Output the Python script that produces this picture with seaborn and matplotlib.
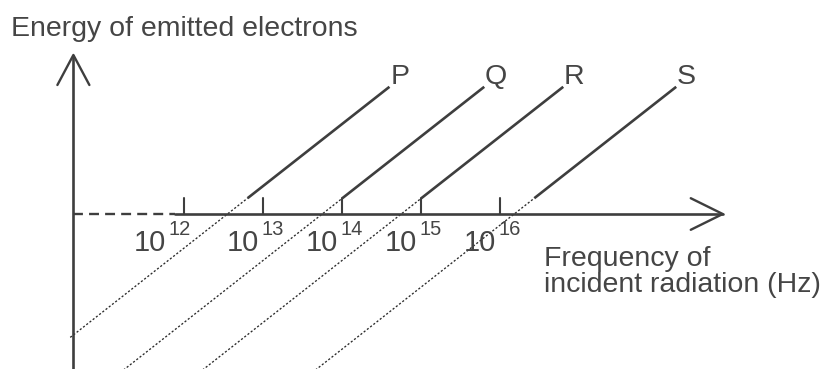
import matplotlib
matplotlib.use("Agg")
import matplotlib.pyplot as plt
import numpy as np
import pandas as pd
import seaborn as sns

# Photoelectric emission: energy of emitted electrons vs log10(frequency)
metals = ["P", "Q", "R", "S"]
threshold_exp = [12.55, 13.75, 14.75, 16.18]   # log10 of threshold frequency (Hz)
energy_gradient = 0.785                          # energy rise per decade of frequency
energy_solid_from = 0.2                          # below this the lines are extrapolated (dotted)
energy_top = 1.61                                # upper end of each measured line
tick_exps = [12, 13, 14, 15, 16]
tick_base = "10"
tick_powers = ["12", "13", "14", "15", "16"]

sns.set_theme(style="white")
plt.rcParams["font.family"] = ["Liberation Sans", "DejaVu Sans"]

INK = "#3e3e3e"
TEXT = "#454545"

fig = plt.figure(figsize=(8.32, 3.69), dpi=100)
ax = fig.add_axes([0, 0, 1, 1])
ax.set_xlim(9.671, 20.203)
ax.set_ylim(-1.962, 2.709)
ax.set_axis_off()

y_axis_x = 10.6
x_axis_end = 18.82
y_axis_top = 2.013
ylo = ax.get_ylim()[0]

# measured (solid) and extrapolated (dotted) parts of each line
solid_rows, dotted_rows = [], []
for m, x0 in zip(metals, threshold_exp):
    e_low = max(energy_gradient * (y_axis_x - 0.04 - x0), ylo - 0.1)
    for e in (e_low, energy_solid_from):
        dotted_rows.append({"metal": m, "exp": x0 + e / energy_gradient, "energy": e})
    for e in (energy_solid_from, energy_top):
        solid_rows.append({"metal": m, "exp": x0 + e / energy_gradient, "energy": e})
solid = pd.DataFrame(solid_rows)
dotted = pd.DataFrame(dotted_rows)

sns.lineplot(data=dotted, x="exp", y="energy", units="metal", estimator=None,
             color="#2a2a2a", lw=0.95, ls=(0, (1.6, 1.5)), ax=ax, legend=False)
sns.lineplot(data=solid, x="exp", y="energy", units="metal", estimator=None,
             color=INK, lw=1.9, solid_capstyle="butt", ax=ax, legend=False)

# metal labels at the top of each line
for m, x0 in zip(metals, threshold_exp):
    ax.text(x0 + energy_top / energy_gradient + 0.01, energy_top + 0.03, m,
            fontsize=20.5, color=TEXT, ha="left", va="baseline")

# axes drawn by hand: y-axis arrow, x-axis (dashed near origin) with arrow
ax.plot([y_axis_x, y_axis_x], [ylo - 0.1, y_axis_top], color=INK, lw=1.9,
        solid_capstyle="butt")
ax.plot([y_axis_x - 0.2025, y_axis_x, y_axis_x + 0.2025],
        [y_axis_top - 0.38, y_axis_top, y_axis_top - 0.38], color=INK, lw=1.7)
ax.plot([y_axis_x, 11.886], [0, 0], color=INK, lw=1.7, ls=(0, (4.2, 2.6)))
ax.plot([11.886, x_axis_end], [0, 0], color=INK, lw=1.9)
ax.plot([x_axis_end - 0.405, x_axis_end, x_axis_end - 0.405],
        [0.2, 0, -0.2], color=INK, lw=1.7)

# decade ticks and labels
label_shift = [-0.177, 0, 0, 0, 0]
for xe, p, sh in zip(tick_exps, tick_powers, label_shift):
    ax.plot([xe, xe], [0, 0.203], color=INK, lw=1.5)
    ax.text(xe + sh - 0.05, -0.468, tick_base, fontsize=21, color=TEXT,
            ha="right", va="baseline")
    ax.text(xe + sh - 0.015, -0.266, p, fontsize=14.5, color=TEXT,
            ha="left", va="baseline")

fig.text(11 / 832, 1 - 36.5 / 369, "Energy of emitted electrons",
         fontsize=20.5, color=TEXT, ha="left", va="baseline")
fig.text(544 / 832, 1 - 292 / 369, "Frequency of\nincident radiation (Hz)",
         fontsize=20.5, color=TEXT, ha="left", va="baseline", linespacing=1.02)

fig.savefig("out.png", dpi=100)
